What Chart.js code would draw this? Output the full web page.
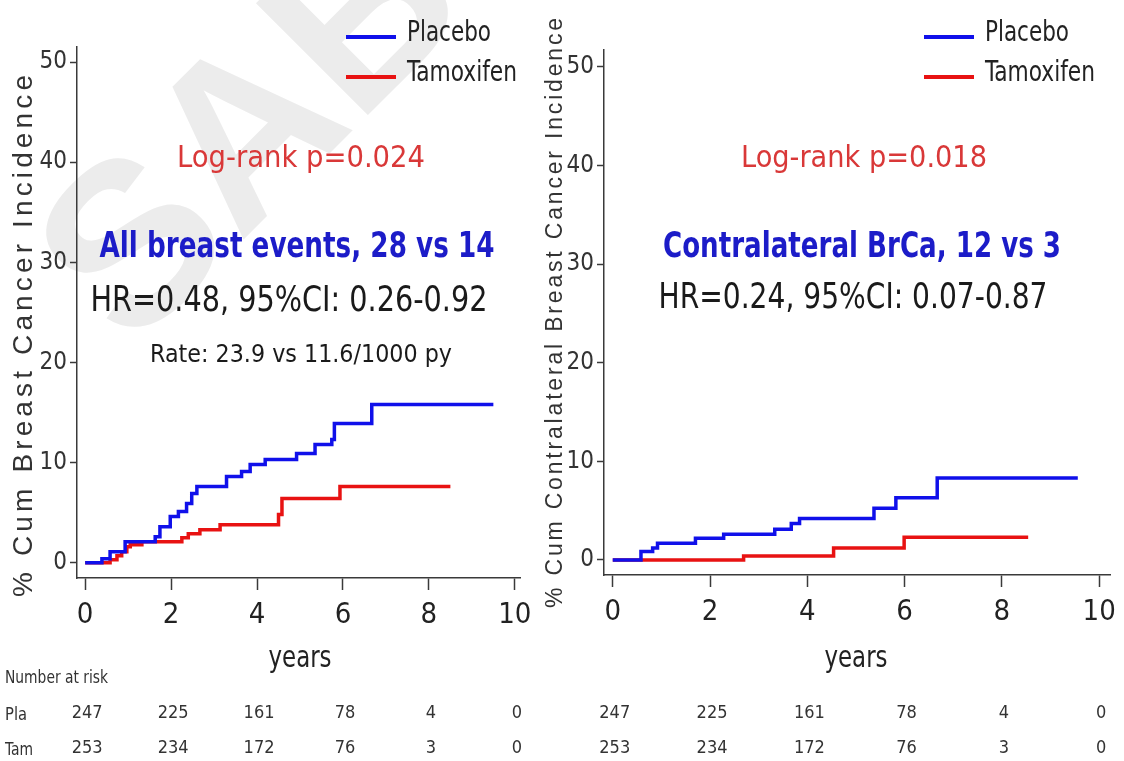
<!DOCTYPE html>
<html>
<head>
<meta charset="utf-8">
<script src="https://cdn.jsdelivr.net/npm/chart.js@4.4.1/dist/chart.umd.min.js"></script>
<style>
  html, body { margin: 0; padding: 0; background: #fff; }
  #wrap { position: relative; width: 1124px; height: 761px; overflow: hidden; }
  #wrap canvas { position: absolute; left: 0; top: 0; }
</style>
</head>
<body>
<div id="wrap">
  <canvas id="leftChart" width="1124" height="761"></canvas>
  <canvas id="rightChart" width="1124" height="761"></canvas>
</div>
<script>
// tick labels
const xTicks = [0, 2, 4, 6, 8, 10];
const yTicks = [0, 10, 20, 30, 40, 50];
const seriesNames = ['Placebo', 'Tamoxifen'];

// all breast events (left panel)
const allPlaceboYears = [0, 0.39, 0.58, 0.93, 1.63, 1.74, 1.98, 2.17, 2.36, 2.48, 2.60, 3.29, 3.64, 3.84, 4.19, 4.92, 5.35, 5.74, 5.80, 6.67, 9.50];
const allPlaceboPct = [0, 0.4, 1.1, 2.1, 2.6, 3.6, 4.6, 5.1, 5.9, 6.9, 7.6, 8.6, 9.1, 9.8, 10.3, 10.9, 11.8, 12.3, 13.9, 15.8, 15.8];
const allTamYears = [0, 0.58, 0.74, 0.85, 0.97, 1.05, 1.32, 2.25, 2.40, 2.67, 3.14, 4.50, 4.58, 5.93, 8.50];
const allTamPct = [0, 0.3, 0.7, 1.1, 1.6, 1.8, 2.1, 2.5, 2.9, 3.3, 3.8, 4.8, 6.4, 7.6, 7.6];

// contralateral breast cancer (right panel)
const contraPlaceboYears = [0, 0.58, 0.82, 0.92, 1.70, 2.28, 3.33, 3.67, 3.84, 5.37, 5.82, 6.67, 9.56];
const contraPlaceboPct = [0, 0.85, 1.2, 1.7, 2.2, 2.6, 3.1, 3.7, 4.2, 5.25, 6.3, 8.3, 8.3];
const contraTamYears = [0, 2.69, 4.54, 5.99, 8.54];
const contraTamPct = [0, 0.4, 1.2, 2.3, 2.3];

// number at risk at each x tick
const riskRowLabels = ['Pla', 'Tam'];
const riskPlacebo = [247, 225, 161, 78, 4, 0];
const riskTamoxifen = [253, 234, 172, 76, 3, 0];

const NARROW = '"Liberation Sans Narrow", "Arial Narrow", "DejaVu Sans Condensed", sans-serif';
const SANS = '"Liberation Sans", Arial, sans-serif';
const BLUE = '#1010ea';
const RED = '#e81212';
const AXIS = '#3a3a3a';

function toPoints(xs, ys) {
  return xs.map((x, i) => ({ x, y: ys[i] }));
}

function fitText(ctx, text, cx, base, font, color, width, align) {
  ctx.save();
  ctx.font = font;
  ctx.fillStyle = color;
  const w = ctx.measureText(text).width;
  ctx.translate(cx, base);
  ctx.scale(width / w, 1);
  ctx.textAlign = align || 'center';
  ctx.textBaseline = 'alphabetic';
  ctx.fillText(text, 0, 0);
  ctx.restore();
}

function spacedVertical(ctx, text, x, cy, size, len) {
  ctx.save();
  ctx.font = size + 'px ' + SANS;
  ctx.fillStyle = '#333';
  ctx.translate(x, cy);
  ctx.rotate(-Math.PI / 2);
  ctx.textBaseline = 'middle';
  ctx.textAlign = 'left';
  const w0 = ctx.measureText(text).width;
  const gap = (len - w0) / (text.length - 1);
  let pos = -len / 2;
  for (const ch of text) {
    ctx.fillText(ch, pos, 0);
    pos += ctx.measureText(ch).width + gap;
  }
  ctx.restore();
}

const kmText = {
  id: 'kmText',
  beforeDraw(chart, args, o) {
    if (!o.watermark) return;
    const ctx = chart.ctx;
    ctx.save();
    ctx.translate(131, 352);
    ctx.rotate(-45 * Math.PI / 180);
    ctx.font = 'bold 230px ' + SANS;
    ctx.fillStyle = '#ececec';
    ctx.textBaseline = 'alphabetic';
    ctx.fillText('SABCS', 0, 0);
    ctx.restore();
  },
  afterDraw(chart, args, o) {
    const ctx = chart.ctx;
    const xs = chart.scales.x;

    spacedVertical(ctx, o.yTitle, o.yTitleX, o.yTitleY, o.yTitleSize, o.yTitleLen);

    const mid = (xs.getPixelForValue(0) + xs.getPixelForValue(10)) / 2;
    fitText(ctx, 'years', mid, 667, '30px ' + NARROW, '#222', 63);

    // legend
    chart.data.datasets.forEach((ds, i) => {
      const y = 37 + i * 40;
      ctx.save();
      ctx.strokeStyle = ds.borderColor;
      ctx.lineWidth = 4;
      ctx.beginPath();
      ctx.moveTo(o.legendX, y);
      ctx.lineTo(o.legendX + 50, y);
      ctx.stroke();
      ctx.restore();
      fitText(ctx, ds.label, o.legendX + 61, 41 + i * 40, '29px ' + NARROW, '#222', i === 0 ? 84 : 110, 'left');
    });

    o.notes.forEach(n => {
      const font = (n.bold ? 'bold ' : '') + n.size + 'px ' + NARROW;
      fitText(ctx, n.text, n.cx, n.base, font, n.color, n.width);
    });

    // number at risk
    ctx.save();
    ctx.font = '18px ' + NARROW;
    ctx.fillStyle = '#333';
    ctx.textBaseline = 'middle';
    ctx.textAlign = 'center';
    [riskPlacebo, riskTamoxifen].forEach((row, r) => {
      row.forEach((v, i) => {
        ctx.fillText(String(v), xs.getPixelForValue(xTicks[i]) + 2, 713 + r * 35);
      });
    });
    ctx.restore();
    if (o.riskLabels) {
      fitText(ctx, 'Number at risk', 5, 683, '18px ' + NARROW, '#333', 103, 'left');
      riskRowLabels.forEach((lab, r) => {
        fitText(ctx, lab, 5, 720 + r * 35, '18px ' + NARROW, '#333', r === 0 ? 22 : 28, 'left');
      });
    }
  }
};
Chart.register(kmText);

function makeChart(id, placebo, tam, frame, text) {
  const ctx = document.getElementById(id).getContext('2d');
  return new Chart(ctx, {
    type: 'line',
    data: {
      datasets: [
        {
          label: seriesNames[0],
          data: toPoints(placebo[0], placebo[1]),
          borderColor: BLUE,
          borderWidth: 3.5,
          stepped: true,
          pointRadius: 0,
          fill: false,
        },
        {
          label: seriesNames[1],
          data: toPoints(tam[0], tam[1]),
          borderColor: RED,
          borderWidth: 3.5,
          stepped: true,
          pointRadius: 0,
          fill: false,
        },
      ],
    },
    options: {
      responsive: false,
      animation: false,
      layout: { padding: { left: 0, top: frame.top, right: frame.right, bottom: 0 } },
      plugins: {
        legend: { display: false },
        tooltip: { enabled: false },
        kmText: text,
      },
      scales: {
        x: {
          type: 'linear',
          min: frame.xMin,
          max: frame.xMax,
          afterBuildTicks: s => { s.ticks = xTicks.map(v => ({ value: v })); },
          afterFit: s => { s.height = frame.xHeight; },
          grid: { drawOnChartArea: false, drawTicks: true, tickLength: 12, tickColor: AXIS, tickWidth: 1.5 },
          border: { display: true, color: AXIS, width: 1.5 },
          ticks: { font: { family: NARROW, size: 29 }, color: '#222', padding: 8, maxRotation: 0, autoSkip: false },
        },
        y: {
          type: 'linear',
          min: -1.53,
          max: frame.yMax,
          afterBuildTicks: s => { s.ticks = yTicks.map(v => ({ value: v })); },
          afterFit: s => { s.width = frame.yWidth; },
          grid: { drawOnChartArea: false, drawTicks: true, tickLength: 7, tickColor: AXIS, tickWidth: 1.5 },
          border: { display: true, color: AXIS, width: 1.5 },
          ticks: { font: { family: NARROW, size: 24 }, color: '#333', padding: 3 },
        },
      },
    },
  });
}

makeChart('leftChart', [allPlaceboYears, allPlaceboPct], [allTamYears, allTamPct],
  { top: 47, right: 604, xMin: -0.19, xMax: 10.12, xHeight: 183, yWidth: 77, yMax: 51.5 },
  {
    watermark: true,
    riskLabels: true,
    yTitle: '% Cum Breast Cancer Incidence',
    yTitleX: 24, yTitleY: 336, yTitleSize: 28, yTitleLen: 522,
    legendX: 346,
    notes: [
      { text: 'Log-rank p=0.024', cx: 301, base: 167, size: 30, color: '#d93838', width: 248 },
      { text: 'All breast events, 28 vs 14', cx: 297, base: 257, size: 36, bold: true, color: '#1c1cc8', width: 395 },
      { text: 'HR=0.48, 95%CI: 0.26-0.92', cx: 289, base: 311, size: 36, color: '#1a1a1a', width: 397 },
      { text: 'Rate: 23.9 vs 11.6/1000 py', cx: 301, base: 362, size: 24, color: '#1a1a1a', width: 302 },
    ],
  });

makeChart('rightChart', [contraPlaceboYears, contraPlaceboPct], [contraTamYears, contraTamPct],
  { top: 50, right: 9, xMin: -0.18, xMax: 10.24, xHeight: 186, yWidth: 604, yMax: 51.7 },
  {
    watermark: false,
    riskLabels: false,
    yTitle: '% Cum Contralateral Breast Cancer Incidence',
    yTitleX: 556, yTitleY: 313, yTitleSize: 23, yTitleLen: 590,
    legendX: 924,
    notes: [
      { text: 'Log-rank p=0.018', cx: 864, base: 167, size: 30, color: '#d93838', width: 246 },
      { text: 'Contralateral BrCa, 12 vs 3', cx: 862, base: 257, size: 36, bold: true, color: '#1c1cc8', width: 398 },
      { text: 'HR=0.24, 95%CI: 0.07-0.87', cx: 853, base: 308, size: 36, color: '#1a1a1a', width: 389 },
    ],
  });
</script>
</body>
</html>
